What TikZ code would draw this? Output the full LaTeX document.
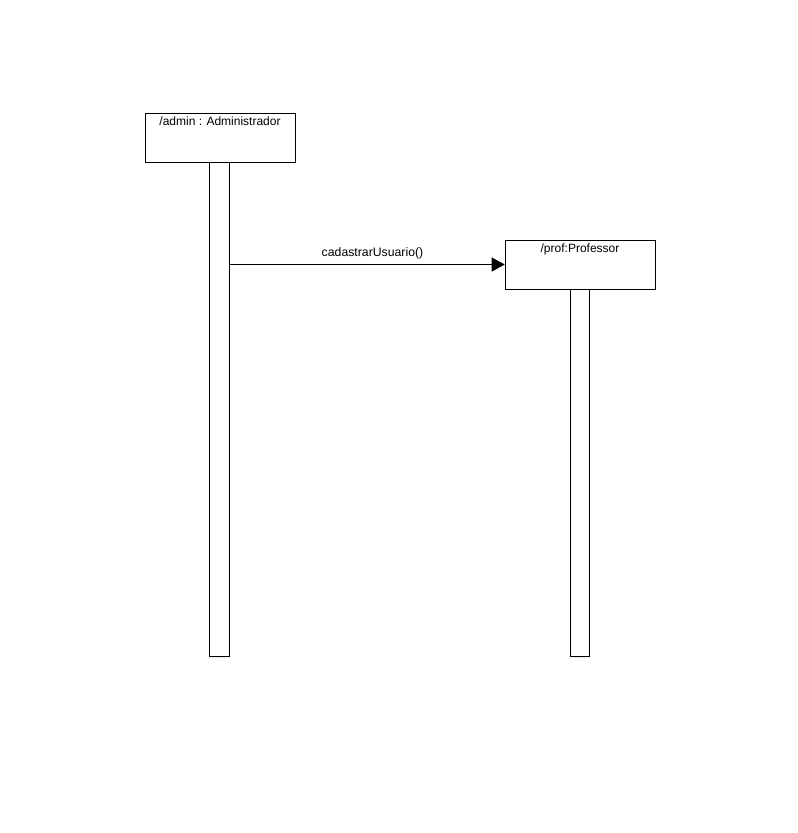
\documentclass[tikz,border=0pt]{standalone}
\usepackage{fontspec}
\setmainfont{Liberation Sans}
\usetikzlibrary{arrows.meta,positioning,shadows}

\begin{document}
\begin{tikzpicture}[
  x=0.75pt, y=-0.75pt,
  obj/.style={draw, fill=white, minimum width=112.5pt, inner sep=0pt,
              text height=9.5pt, text depth=27.25pt, font=\fontsize{9}{10}\selectfont,
              drop shadow={opacity=0.15, shadow xshift=1pt, shadow yshift=-1pt}},
  life/.style={draw, fill=white, minimum width=15pt, minimum height=370.5pt,
               inner sep=0pt, anchor=north, xshift=-0.75pt,
               drop shadow={opacity=0.15, shadow xshift=1pt, shadow yshift=-1pt}},
  msg/.style={-{Triangle[length=9.75pt, width=10.5pt]}, line width=0.6pt},
  lbl/.style={font=\fontsize{9.2}{10}\selectfont}
]
\useasboundingbox (0,0) rectangle (798,833);

% Objects
\node[obj] (admin) at (220,137.5) {/admin : Administrador};
\node[obj] (prof) at (580,264.5) {/prof:Professor};

% Lifelines
\node[life] (adminbar) at (admin.south) {};
\node[life, minimum height=275.25pt, minimum width=14.25pt, xshift=0.4pt] (profbar) at (prof.south) {};

% Message
\draw[msg] (prof.west -| adminbar.east) -- node[lbl, above, pos=0.52, yshift=0.5pt] {cadastrarUsuario()} (prof.west);

\end{tikzpicture}
\end{document}
